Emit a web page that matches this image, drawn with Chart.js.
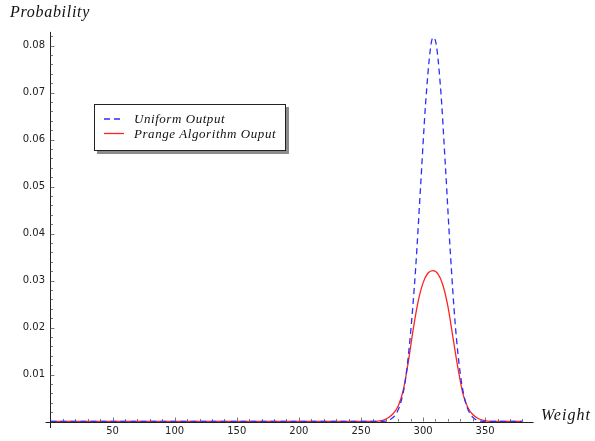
<!DOCTYPE html>
<html>
<head>
<meta charset="utf-8">
<script src="https://cdn.jsdelivr.net/npm/chart.js@4.4.0/dist/chart.umd.min.js"></script>
<style>
  html, body { margin: 0; padding: 0; background: #fff; }
  #wrap { width: 595px; height: 441px; }
</style>
</head>
<body>
<div id="wrap"><canvas id="chart" width="595" height="441"></canvas></div>
<script>
// Series (weight -> probability)
const uniformWeights = [0, 262, 270, 274, 278, 282, 286, 290, 294, 298, 302, 306, 308, 310, 314, 318, 322, 326, 330, 334, 338, 342, 346, 354, 380];
const uniformProb = [0, 0, 0.0001, 0.0005, 0.0015, 0.0040, 0.0092, 0.0190, 0.0325, 0.0500, 0.0675, 0.0795, 0.0817, 0.0810, 0.0713, 0.0543, 0.0358, 0.0204, 0.0101, 0.0043, 0.0016, 0.0005, 0.0001, 0, 0];

const prangeWeights = [0, 256, 264, 268, 272, 276, 280, 284, 288, 292, 296, 300, 304, 308, 312, 316, 320, 324, 328, 332, 336, 340, 344, 348, 352, 358, 380];
const prangeProb = [0, 0, 0.0001, 0.0003, 0.0008, 0.0017, 0.0033, 0.0066, 0.0125, 0.0195, 0.0255, 0.0295, 0.0316, 0.0321, 0.0314, 0.0290, 0.0245, 0.0180, 0.0115, 0.0060, 0.0030, 0.0015, 0.0007, 0.0003, 0.0001, 0, 0];

const seriesLabels = ["Uniform Output", "Prange Algorithm Ouput"];

// Tick labels
const xTickValues = [50, 100, 150, 200, 250, 300, 350];
const yTickValues = [0.01, 0.02, 0.03, 0.04, 0.05, 0.06, 0.07, 0.08];

function toPoints(xs, ys) {
    return xs.map((x, i) => ({ x: x, y: ys[i] }));
}

// Sage style axes through the origin, inward ticks, axis names and legend box
const sagePlot = {
    id: 'sagePlot',
    afterDatasetsDraw(chart) {
        const ctx = chart.ctx;
        const xs = chart.scales.x;
        const ys = chart.scales.y;
        const area = chart.chartArea;
        const x0 = xs.getPixelForValue(0);
        const y0 = ys.getPixelForValue(0);

        ctx.save();
        ctx.strokeStyle = '#222';
        ctx.lineWidth = 1;
        // axis lines
        ctx.beginPath();
        ctx.moveTo(area.left, Math.round(y0) + 0.5);
        ctx.lineTo(area.right, Math.round(y0) + 0.5);
        ctx.moveTo(Math.round(x0) + 0.5, area.top);
        ctx.lineTo(Math.round(x0) + 0.5, area.bottom);
        ctx.stroke();

        // x ticks every 10, longer at labelled ones
        ctx.lineWidth = 0.8;
        ctx.strokeStyle = '#555';
        ctx.beginPath();
        for (let v = 10; v <= 380; v += 10) {
            const px = Math.round(xs.getPixelForValue(v)) + 0.5;
            const len = xTickValues.includes(v) ? 4 : 2.5;
            ctx.moveTo(px, y0);
            ctx.lineTo(px, y0 - len);
        }
        // y ticks every 0.002
        for (let k = 1; k <= 41; k++) {
            const v = k * 0.002;
            const py = Math.round(ys.getPixelForValue(v)) + 0.5;
            const len = (k % 5 === 0) ? 4 : 2.5;
            ctx.moveTo(x0, py);
            ctx.lineTo(x0 + len, py);
        }
        ctx.stroke();

        // axis names
        ctx.fillStyle = '#111';
        ctx.font = 'italic 16px "Liberation Serif"';
        ctx.letterSpacing = '0.7px';
        ctx.textBaseline = 'alphabetic';
        ctx.textAlign = 'left';
        ctx.fillText('Probability', 10, 17);
        ctx.letterSpacing = '1px';
        ctx.fillText('Weight', 541, 420);

        // legend box with shadow
        const bx = 94, by = 104, bw = 191, bh = 46;
        ctx.fillStyle = 'rgba(0,0,0,0.45)';
        ctx.fillRect(bx + 3, by + 3, bw + 1, bh + 1);
        ctx.fillStyle = '#fff';
        ctx.fillRect(bx, by, bw, bh);
        ctx.strokeStyle = '#222';
        ctx.lineWidth = 1;
        ctx.strokeRect(bx + 0.5, by + 0.5, bw, bh);

        const rows = [119, 133.5];
        chart.data.datasets.forEach((ds, i) => {
            ctx.strokeStyle = ds.borderColor;
            ctx.lineWidth = 1.3;
            ctx.setLineDash(ds.borderDash || []);
            ctx.beginPath();
            ctx.moveTo(104, rows[i]);
            ctx.lineTo(124, rows[i]);
            ctx.stroke();
            ctx.setLineDash([]);
            ctx.fillStyle = '#111';
            ctx.font = 'italic 13px "Liberation Serif"';
            ctx.letterSpacing = '0.55px';
            ctx.fillText(ds.label, 134, rows[i] + 4);
        });
        ctx.restore();
    }
};

new Chart(document.getElementById('chart'), {
    type: 'line',
    data: {
        datasets: [
            {
                label: seriesLabels[0],
                data: toPoints(uniformWeights, uniformProb),
                borderColor: 'rgb(45,45,255)',
                borderWidth: 1.3,
                borderDash: [6, 4],
                pointRadius: 0,
                fill: false,
                cubicInterpolationMode: 'monotone'
            },
            {
                label: seriesLabels[1],
                data: toPoints(prangeWeights, prangeProb),
                borderColor: 'rgb(255,35,35)',
                borderWidth: 1.3,
                pointRadius: 0,
                fill: false,
                cubicInterpolationMode: 'monotone'
            }
        ]
    },
    options: {
        responsive: false,
        animation: false,
        devicePixelRatio: 1,
        layout: {
            padding: { left: 0, right: 61.4, top: 31.9, bottom: 12.9 }
        },
        plugins: {
            legend: { display: false },
            tooltip: { enabled: false }
        },
        scales: {
            x: {
                type: 'linear',
                position: { y: 0 },
                min: -4,
                max: 389,
                afterBuildTicks: function (scale) {
                    scale.ticks = xTickValues.map(v => ({ value: v }));
                },
                grid: { display: false, drawTicks: false },
                border: { display: false },
                ticks: {
                    padding: 3.5,
                    maxRotation: 0,
                    color: '#222',
                    font: { family: 'DejaVu Sans', size: 10 }
                }
            },
            y: {
                type: 'linear',
                position: 'left',
                min: -0.0014,
                max: 0.0829,
                afterBuildTicks: function (scale) {
                    scale.ticks = yTickValues.map(v => ({ value: v }));
                },
                afterFit: function (scale) {
                    scale.width = 45.5;
                },
                grid: { display: false, drawTicks: false },
                border: { display: false },
                ticks: {
                    padding: 0.5,
                    color: '#222',
                    font: { family: 'DejaVu Sans', size: 10 },
                    callback: function (value) {
                        return value.toFixed(2);
                    }
                }
            }
        }
    },
    plugins: [sagePlot]
});
</script>
</body>
</html>
